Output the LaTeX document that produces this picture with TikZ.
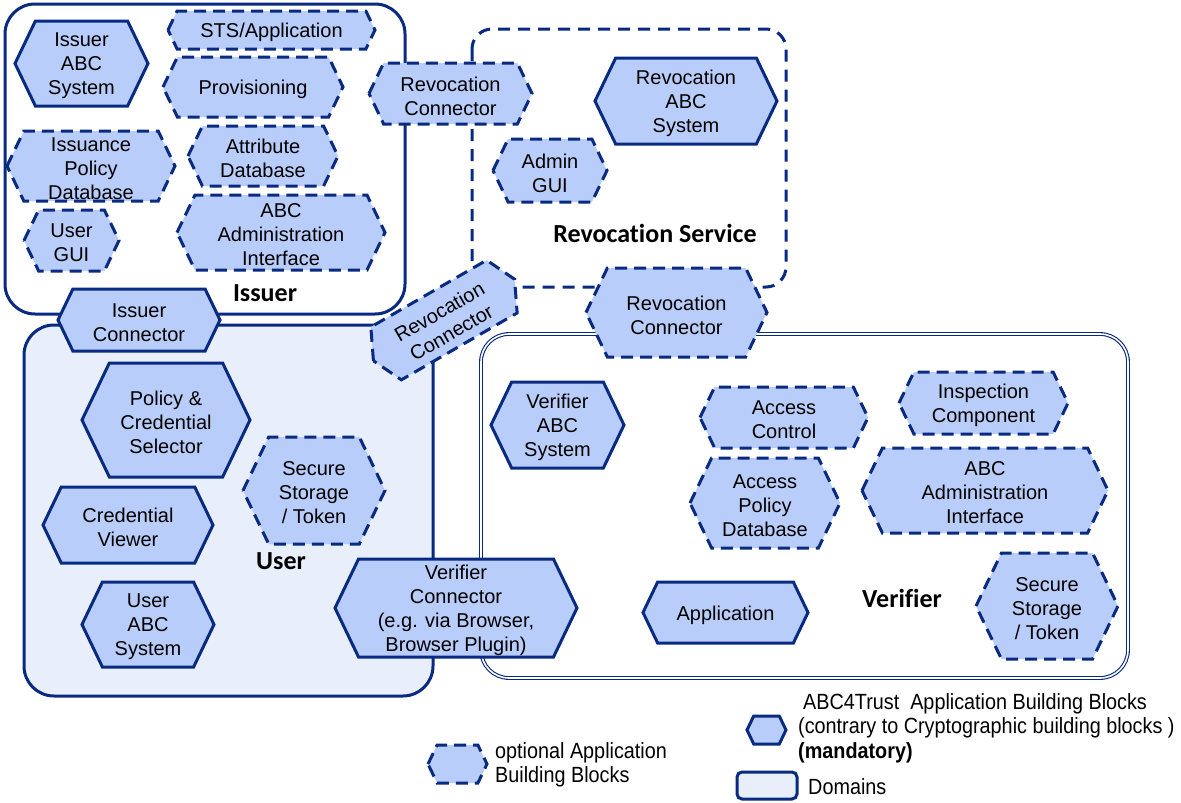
\documentclass[tikz,border=0pt]{standalone}
\usepackage{fontspec}
\setmainfont{Liberation Sans}
\newfontfamily\lblfont{Carlito}[Ligatures=NoCommon]
\newfontfamily\narrowfont{Liberation Sans}[FakeStretch=0.9]
\definecolor{hexfill}{RGB}{185,205,250}
\definecolor{navy}{RGB}{8,42,128}
\definecolor{userdom}{RGB}{232,239,250}
\tikzset{
  mandblk/.style={draw=navy, fill=hexfill, line width=3pt, line join=miter},
  optblk/.style={draw=navy, fill=hexfill, line width=3pt, dash pattern=on 12pt off 7pt},
  hextext/.style={inner sep=0pt, align=center, yshift=-2.5pt, font=\fontsize{20}{24}\selectfont},
  domlabel/.style={inner sep=0pt, font=\lblfont\bfseries\fontsize{26}{30}\selectfont},
  legtext/.style={inner sep=0pt, align=left, anchor=west, font=\narrowfont\fontsize{22}{24.5}\selectfont},
  domainbox/.style={draw=navy, line width=3pt},
}
\newcommand\hexblk[7]{%
  \pgfmathsetmacro\hexd{0.48*(#5-#4)/2}%
  \pgfmathsetmacro\hexm{(#4+#5)/2}%
  \draw[#6] (#2,\hexm) -- ({#2+\hexd},#4) -- ({#3-\hexd},#4) -- (#3,\hexm) -- ({#3-\hexd},#5) -- ({#2+\hexd},#5) -- cycle;
  \node[hextext] (#1) at ({(#2+#3)/2},\hexm) {#7};
}
\begin{document}
\begin{tikzpicture}[x=1pt,y=-1pt]
\useasboundingbox[fill=white] (0,0) rectangle (1181,803);

% domains
\draw[domainbox, rounded corners=30pt] (5,4) rectangle (405,314);
\draw[domainbox, dash pattern=on 12pt off 8pt, rounded corners=20pt] (472,29) rectangle (786,287);
\draw[domainbox, fill=userdom, rounded corners=30pt] (24,325) rectangle (433,696);
\draw[draw=navy, line width=1.1pt, double=white, double distance=1.6pt, rounded corners=28pt] (481,334) rectangle (1128,678);

\node[domlabel] (lissuer) at (265,293) {Issuer};
\node[domlabel] (lrevserv) at (655,233) {Revocation Service};
\node[domlabel] (luser) at (281,561) {User};
\node[domlabel] (lverifier) at (902,598) {Verifier};

% Issuer
\hexblk{issabc}{15}{148}{21}{106}{mandblk}{Issuer\\ABC\\System}
\hexblk{sts}{168}{375}{11}{49}{optblk}{STS/Application}
\hexblk{prov}{163}{343}{57}{117}{optblk}{Provisioning}
\hexblk{isspol}{7}{175}{131}{201}{optblk}{Issuance\\Policy\\Database}
\hexblk{attrdb}{188}{338}{126}{186}{optblk}{Attribute\\Database}
\hexblk{usergui}{24}{119}{210}{271}{optblk}{User\\GUI}
\hexblk{issadmin}{177}{385}{195}{270}{optblk}{ABC\\Administration\\Interface}
\hexblk{issconn}{58}{220}{289}{351}{mandblk}{Issuer\\Connector}

% Revocation
\hexblk{revconn1}{369}{532}{63}{124}{optblk}{Revocation\\Connector}
\hexblk{revabc}{595}{777}{58}{144}{mandblk}{Revocation\\ABC\\System}
\hexblk{admingui}{493}{607}{139}{202}{optblk}{Admin\\GUI}
\hexblk{revconn2}{586}{767}{268}{357}{optblk}{Revocation\\Connector}
\begin{scope}[shift={(444,320)}, rotate=30, transform shape]
\hexblk{revconn3}{-81.5}{81.5}{-30.5}{30.5}{optblk}{Revocation\\Connector}
\end{scope}

% User
\hexblk{polsel}{82}{250}{363}{477}{mandblk}{Policy \&\\Credential\\Selector}
\hexblk{usersec}{243}{385}{437}{544}{optblk}{Secure\\Storage\\/ Token}
\hexblk{credview}{43}{213}{487}{563}{mandblk}{Credential\\Viewer}
\hexblk{userabc}{82}{214}{582}{667}{mandblk}{User\\ABC\\System}

% Verifier
\hexblk{verconn}{335}{577}{559}{657}{mandblk}{Verifier\\Connector\\(e.g. via Browser,\\Browser Plugin)}
\hexblk{verabc}{491}{624}{382}{468}{mandblk}{Verifier\\ABC\\System}
\hexblk{accctl}{700}{868}{387}{448}{optblk}{Access\\Control}
\hexblk{accpol}{690}{840}{458}{548}{optblk}{Access\\Policy\\Database}
\hexblk{inspect}{899}{1068}{372}{434}{optblk}{Inspection\\Component}
\hexblk{veradmin}{862}{1108}{448}{533}{optblk}{ABC\\Administration\\Interface}
\hexblk{versec}{976}{1118}{553}{659}{optblk}{Secure\\Storage\\/ Token}
\hexblk{app}{643}{808}{582}{643}{mandblk}{Application}

% Legend
\hexblk{legopt}{428}{487}{745}{783}{optblk}{}
\node[legtext] (legopttxt) at (495,765) {optional Application\\Building Blocks};
\hexblk{legmand}{747}{786}{716}{744}{mandblk}{}
\node[legtext] (legmandtxt) at (798,728) {\hspace*{5pt}ABC4Trust\ \ Application Building Blocks\\(contrary to Cryptographic building blocks )\\\textbf{(mandatory)}};
\draw[domainbox, fill=userdom, rounded corners=5pt] (737,772) rectangle (797,799);
\node[legtext] (legdomtxt) at (808,787) {Domains};
\end{tikzpicture}
\end{document}
